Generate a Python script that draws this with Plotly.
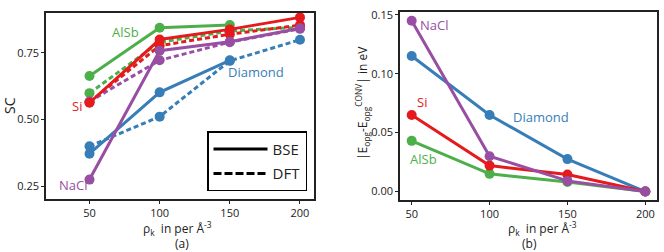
import plotly.graph_objects as go

# ---------------- data ----------------
rho = [50, 100, 150, 200]

# panel (a): SC
sc_bse = {
    "Diamond": [0.372, 0.602, 0.722, None],
    "AlSb":    [0.663, 0.844, 0.854, None],
    "Si":      [0.563, 0.800, 0.838, 0.883],
    "NaCl":    [0.275, 0.758, 0.792, 0.842],
}
sc_dft = {
    "Diamond": [0.400, 0.511, 0.720, 0.799],
    "AlSb":    [0.599, 0.790, 0.832, 0.846],
    "Si":      [0.565, 0.777, 0.820, 0.854],
    "NaCl":    [0.568, 0.722, 0.790, 0.840],
}

# panel (b): |E_opg - E_opg^CONV| in eV
dE = {
    "Diamond": [0.115, 0.065, 0.0275, 0.0],
    "AlSb":    [0.043, 0.015, 0.008, 0.0],
    "Si":      [0.065, 0.022, 0.0145, 0.0],
    "NaCl":    [0.145, 0.030, 0.009, 0.0],
}

colors = {"Diamond": "#377eb8", "AlSb": "#4daf4a", "Si": "#e41a1c", "NaCl": "#984ea3"}
order = ["Diamond", "AlSb", "Si", "NaCl"]

FONT = "Open Sans"
LW = 3
MS = 10

fig = go.Figure()

# dashed (DFT) first, then solid (BSE)
for name in order:
    fig.add_trace(go.Scatter(x=rho, y=sc_dft[name], mode="lines+markers",
                             line=dict(color=colors[name], width=LW, dash="5px,3px"),
                             marker=dict(color=colors[name], size=MS),
                             showlegend=False, hoverinfo="skip", xaxis="x", yaxis="y"))
for name in order:
    fig.add_trace(go.Scatter(x=rho, y=sc_bse[name], mode="lines+markers",
                             line=dict(color=colors[name], width=LW),
                             marker=dict(color=colors[name], size=MS),
                             showlegend=False, hoverinfo="skip", xaxis="x", yaxis="y"))

# legend entries
fig.add_trace(go.Scatter(x=[None], y=[None], mode="lines", name="BSE", legendgroup="bse",
                         line=dict(color="black", width=3), xaxis="x", yaxis="y"))
fig.add_trace(go.Scatter(x=[None], y=[None], mode="lines", name="DFT", legendgroup="dft",
                         line=dict(color="black", width=3, dash="8px,3px"), xaxis="x", yaxis="y"))

for name in ["Diamond", "AlSb", "Si", "NaCl"]:
    fig.add_trace(go.Scatter(x=rho, y=dE[name], mode="lines+markers",
                             line=dict(color=colors[name], width=LW),
                             marker=dict(color=colors[name], size=MS),
                             showlegend=False, hoverinfo="skip", xaxis="x2", yaxis="y2"))

axis_common = dict(showline=True, linecolor="#222", linewidth=1.5, mirror=True,
                   ticks="outside", ticklen=3, tickwidth=1.2, tickcolor="#222",
                   showgrid=False, zeroline=False,
                   tickfont=dict(family=FONT, size=11, color="#222"))

W, H = 664, 252
fig.update_layout(
    width=W, height=H,
    margin=dict(l=0, r=0, t=0, b=0),
    paper_bgcolor="white", plot_bgcolor="white",
    font=dict(family=FONT, color="#222"),
    xaxis=dict(domain=[46 / W, 314 / W], range=[19, 210],
               tickvals=[50, 100, 150, 200], anchor="y", **axis_common),
    yaxis=dict(domain=[1 - 198 / H, 1 - 8 / H], range=[0.202, 0.90],
               tickvals=[0.25, 0.50, 0.75], ticktext=["0.25", "0.50", "0.75"],
               anchor="x", **axis_common),
    xaxis2=dict(domain=[400 / W, 657 / W], range=[42.5, 207.5],
                tickvals=[50, 100, 150, 200], anchor="y2", **axis_common),
    yaxis2=dict(domain=[1 - 199 / H, 1 - 7.3 / H], range=[-0.00725, 0.15225],
                tickvals=[0, 0.05, 0.10, 0.15], ticktext=["0.00", "0.05", "0.10", "0.15"],
                anchor="x2", **axis_common),
    showlegend=True,
    legend=dict(x=307 / W, y=1 - 190 / H, xanchor="right", yanchor="bottom",
                bordercolor="black", borderwidth=1.5, bgcolor="white",
                font=dict(family=FONT, size=15, color="#222"),
                itemwidth=54, tracegroupgap=2, traceorder="grouped"),
)

def ann(text, x, y, color="#222", size=12, angle=0):
    fig.add_annotation(text=text, x=x / W, y=1 - y / H, xref="paper", yref="paper",
                       showarrow=False, textangle=angle,
                       font=dict(family=FONT, size=size, color=color),
                       xanchor="center", yanchor="middle")

# series labels panel (a)
ann("AlSb", 125, 28, colors["AlSb"], 13)
ann("Si", 77, 103, colors["Si"], 13)
ann("NaCl", 73, 184, colors["NaCl"], 13)
ann("Diamond", 256, 68, colors["Diamond"], 13)
# series labels panel (b)
ann("NaCl", 434, 20, colors["NaCl"], 13)
ann("Diamond", 541, 114, colors["Diamond"], 13)
ann("Si", 422, 99, colors["Si"], 13)
ann("AlSb", 423, 157, colors["AlSb"], 13)

# axis titles
ann("ρ<sub>k</sub>  in per Å<sup>-3</sup>", 177, 228, "#222", 12)
ann("(a)", 182, 243.5, "#222", 12)
ann("SC", 10, 103, "#222", 14, -90)
ann("|E<sub>opg</sub>-E<sub>opg</sub><sup>CONV</sup>| in eV", 362, 100, "#222", 12, -90)
ann("ρ<sub>k</sub>  in per Å<sup>-3</sup>", 542, 228, "#222", 12)
ann("(b)", 529, 243.5, "#222", 12)

fig.write_html("out.html", config={"displayModeBar": False},
               post_script="document.body.style.margin='0';")
